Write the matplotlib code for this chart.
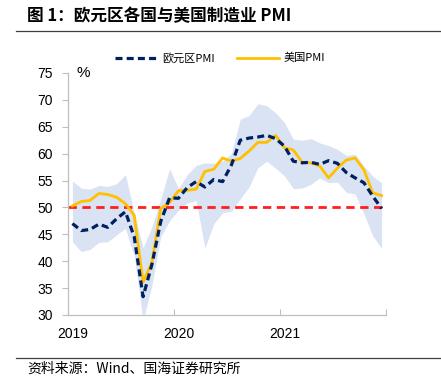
import matplotlib
matplotlib.use("Agg")
import matplotlib.pyplot as plt
import numpy as np

CJK = ["Noto Sans CJK SC", "DejaVu Sans"]
LATIN = ["Liberation Sans", "DejaVu Sans"]

# monthly values, 36 points, left to right
euro_pmi = [47.0, 45.7, 45.9, 46.9, 46.3, 47.9, 49.2, 44.5, 33.4, 39.4, 47.4, 51.8,
            51.7, 53.7, 54.8, 53.8, 55.2, 54.8, 57.9, 62.5, 62.9, 63.1, 63.4, 62.8,
            61.4, 58.6, 58.3, 58.4, 58.0, 58.7, 58.2, 56.5, 55.5, 54.6, 52.1, 49.8]
us_pmi = [50.3, 51.1, 51.3, 52.6, 52.4, 51.9, 50.7, 48.5, 36.1, 39.8, 49.8, 50.9,
          53.1, 53.2, 53.4, 56.7, 57.1, 59.2, 58.6, 59.1, 60.5, 62.1, 62.1, 63.4,
          61.1, 60.7, 58.4, 58.3, 57.7, 55.5, 57.3, 58.8, 59.2, 57.0, 52.7, 52.2]
band_high = [54.9, 53.6, 53.4, 54.1, 53.9, 54.4, 56.1, 49.0, 42.5, 46.4, 51.6, 57.2,
             53.5, 56.1, 57.8, 58.3, 58.2, 58.6, 60.0, 66.4, 67.1, 69.3, 68.9, 67.6,
             65.8, 62.7, 62.5, 62.8, 62.0, 61.5, 60.8, 59.7, 59.9, 57.7, 55.8, 54.6]
band_low = [43.6, 41.8, 42.2, 43.5, 43.6, 44.9, 46.1, 41.0, 29.0, 35.5, 44.6, 47.5,
            49.5, 50.8, 51.3, 42.4, 47.0, 49.0, 49.3, 51.6, 53.8, 57.4, 58.6, 57.3,
            55.9, 53.5, 53.6, 54.3, 55.5, 54.6, 54.7, 52.8, 52.5, 48.8, 44.7, 42.4]
year_labels = ["2019", "2020", "2021"]
y_ticks = [30, 35, 40, 45, 50, 55, 60, 65, 70, 75]

x = np.arange(len(euro_pmi))

fig = plt.figure(figsize=(4.41, 3.88), dpi=100)
ax = fig.add_axes([68 / 441, 73 / 388, 318 / 441, 242 / 388])

ax.fill_between(x, band_low, band_high, color="#dae3f3", lw=0, zorder=1)
ax.plot([-0.5, x[-1]], [50, 50], color="#ff1f1f", lw=2.0, dashes=(3, 2), zorder=2)
ax.plot(x, euro_pmi, color="#002060", lw=2.3, dashes=(2.2, 1.3), zorder=4, label="欧元区PMI")
ax.plot(x, us_pmi, color="#ffc000", lw=2.0, zorder=3, label="美国PMI")

ax.set_xlim(-0.5, 35.5)
ax.set_ylim(30, 75)
ax.set_yticks(y_ticks)
ax.set_yticklabels([str(v) for v in y_ticks], family=LATIN, fontsize=10)
ax.tick_params(axis="y", direction="out", length=4, width=0.8, color="#bfbfbf", pad=7)

ax.set_xticks([-0.5, 11.5, 23.5, 35.5])
ax.set_xticklabels([])
ax.set_xticks([0, 12, 24], minor=True)
ax.set_xticklabels(year_labels, minor=True, family=LATIN, fontsize=10)
ax.tick_params(axis="x", which="major", direction="in", length=4, width=0.8, color="#bfbfbf")
ax.tick_params(axis="x", which="minor", length=0, pad=9)

for side in ["top", "right"]:
    ax.spines[side].set_visible(False)
for side in ["left", "bottom"]:
    ax.spines[side].set_color("#bfbfbf")
    ax.spines[side].set_linewidth(0.9)

ax.text(0.026, 1.0, "%", transform=ax.transAxes, family=LATIN, fontsize=11,
        ha="left", va="center")

fig.legend(loc="center", bbox_to_anchor=(220 / 441, 1 - 58 / 388), ncol=2, frameon=False,
           prop={"family": CJK, "size": 8}, handlelength=3.8, handletextpad=0.45,
           columnspacing=2.0)

fig.text(27 / 441, 1 - 16 / 388, "图 1：欧元区各国与美国制造业 PMI", family=CJK,
         fontsize=12, fontweight="bold", ha="left", va="center")
fig.add_artist(plt.Line2D([16 / 441, 1], [1 - 31 / 388, 1 - 31 / 388], color="#404040", lw=0.9))
fig.add_artist(plt.Line2D([16 / 441, 1], [1 - 358 / 388, 1 - 358 / 388], color="#404040", lw=0.9))
fig.text(27 / 441, 1 - 369 / 388, "资料来源：Wind、国海证券研究所", family=CJK,
         fontsize=10, ha="left", va="center")

fig.savefig("out.png", dpi=100)
